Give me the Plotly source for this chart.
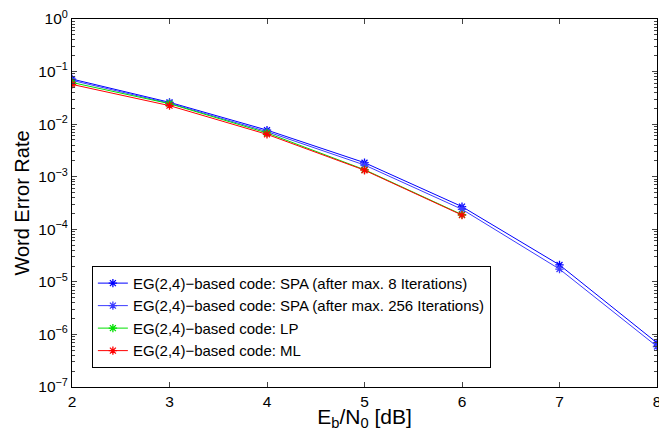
import plotly.graph_objects as go

snr = [2, 3, 4, 5, 6, 7, 8]
snr_short = [2, 3, 4, 5, 6]
spa8 = [0.072, 0.026, 0.0077, 0.00185, 2.7e-4, 2.1e-5, 6.9e-7]
spa256 = [0.068, 0.025, 0.0072, 0.00167, 2.4e-4, 1.75e-5, 5.9e-7]
lp = [0.062, 0.0245, 0.0068, 0.00136, 1.9e-4]
ml = [0.057, 0.0225, 0.0064, 0.00133, 1.86e-4]
names = ["EG(2,4)\u2212based code: SPA (after max. 8 Iterations)",
         "EG(2,4)\u2212based code: SPA (after max. 256 Iterations)",
         "EG(2,4)\u2212based code: LP",
         "EG(2,4)\u2212based code: ML"]
ytickvals = [1e0, 1e-1, 1e-2, 1e-3, 1e-4, 1e-5, 1e-6, 1e-7]
yticktext = ["10<sup>0</sup>", "10<sup>\u22121</sup>", "10<sup>\u22122</sup>", "10<sup>\u22123</sup>",
             "10<sup>\u22124</sup>", "10<sup>\u22125</sup>", "10<sup>\u22126</sup>", "10<sup>\u22127</sup>"]

series = [(snr, spa8, "#0000ff"), (snr, spa256, "#3c3cff"), (snr_short, lp, "#00e000"), (snr_short, ml, "#ff0000")]

fig = go.Figure()
for (xs, ys, c), n in zip(series, names):
    fig.add_trace(go.Scatter(x=xs, y=ys, mode="lines+markers", name=n,
                             line=dict(color=c, width=1),
                             marker=dict(symbol="asterisk-open", size=7, color=c,
                                         line=dict(color=c, width=1.3))))

font = "Liberation Sans, Arial, sans-serif"
fig.update_layout(
    width=659, height=431,
    margin=dict(l=72, r=2, t=19, b=44),
    paper_bgcolor="white", plot_bgcolor="white",
    font=dict(family=font, size=15.5, color="black"),
    showlegend=True,
    legend=dict(x=0.034, y=0.052, xanchor="left", yanchor="bottom",
                bgcolor="white", bordercolor="black", borderwidth=1,
                font=dict(size=15, family=font), tracegroupgap=0,
                itemwidth=30),
    xaxis=dict(range=[2, 8], tickvals=snr, ticks="inside", ticklen=5,
               showline=True, linecolor="black", linewidth=1, mirror="ticks",
               showgrid=False, zeroline=False, automargin=False,
               ticklabeloverflow="allow",
               title=dict(text="E<sub>b</sub>/N<sub>0</sub> [dB]", font=dict(size=21), standoff=3)),
    yaxis=dict(type="log", range=[-7, 0], tickvals=ytickvals, ticktext=yticktext,
               ticks="inside", ticklen=5,
               showline=True, linecolor="black", linewidth=1, mirror="ticks",
               showgrid=False, zeroline=False, automargin=False,
               ticklabeloverflow="allow",
               minor=dict(ticks="inside", ticklen=3, dtick="D1", showgrid=False),
               title=dict(text="Word Error Rate", font=dict(size=20), standoff=3)),
)
fig.write_html("out.html", config={"displayModeBar": False},
               post_script="document.body.style.margin='0px';document.body.style.overflow='hidden';")
